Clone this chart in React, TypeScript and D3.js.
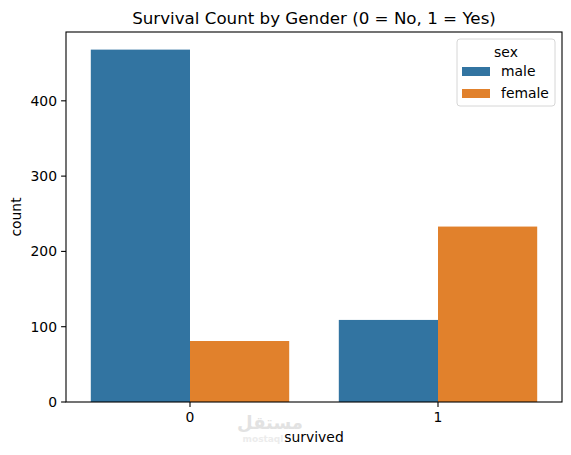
import React from 'react';
import * as d3 from 'd3';

const categories = ['0', '1'];
const groups = ['male', 'female'];
const maleCounts = [468, 109];
const femaleCounts = [81, 233];
const yTicks = [0, 100, 200, 300, 400];
const colors = ['#3274a1', '#e1812c'];

export default function App() {
  const width = 571;
  const height = 455;
  const margin = { left: 66, right: 9, top: 32, bottom: 53 };
  const innerW = width - margin.left - margin.right;
  const innerH = height - margin.top - margin.bottom;
  const font = 'DejaVu Sans, sans-serif';
  const fs = 13.9;

  const series = [maleCounts, femaleCounts];
  const maxVal = d3.max(series.flat()) as number;

  // seaborn-style continuous x: categories at 0,1 with range -0.5..1.5
  const x = d3.scaleLinear().domain([-0.5, categories.length - 0.5]).range([0, innerW]);
  const y = d3.scaleLinear().domain([0, maxVal * 1.05]).range([innerH, 0]);
  const barW = 0.8 / groups.length;

  return (
    <svg width={width} height={height} style={{ position: 'absolute', left: 0, top: 0 }} fontFamily={font}>
      <rect width={width} height={height} fill="#fff" />
      <text x={margin.left + innerW / 2} y={24} textAnchor="middle" fontSize={16.7}>
        Survival Count by Gender (0 = No, 1 = Yes)
      </text>
      <g transform={`translate(${margin.left},${margin.top})`}>
        {series.map((vals, gi) =>
          vals.map((v, ci) => {
            const x0 = x(ci - 0.4 + gi * barW);
            const x1 = x(ci - 0.4 + (gi + 1) * barW);
            return (
              <rect key={`${gi}-${ci}`} x={x0} y={y(v)} width={x1 - x0} height={innerH - y(v)} fill={colors[gi]} />
            );
          })
        )}
        {/* watermark */}
        <text x={204} y={innerH + 27} textAnchor="middle" fontSize={18} fontWeight="bold" fill="#e2e2e2">مستقل</text>
        <text x={197} y={innerH + 40} textAnchor="middle" fontSize={9} fontWeight="bold" fill="#ececec">mostaql</text>
        {/* spines */}
        <rect x={0} y={0} width={innerW} height={innerH} fill="none" stroke="#000" strokeWidth={1.1} />
        {yTicks.map(t => (
          <g key={t} transform={`translate(0,${y(t)})`}>
            <line x1={-4.9} x2={0} stroke="#000" strokeWidth={1.1} />
            <text x={-9} dy="0.35em" textAnchor="end" fontSize={fs}>{t}</text>
          </g>
        ))}
        {categories.map((c, i) => (
          <g key={c} transform={`translate(${x(i)},${innerH})`}>
            <line y1={0} y2={4.9} stroke="#000" strokeWidth={1.1} />
            <text y={20} textAnchor="middle" fontSize={fs}>{c}</text>
          </g>
        ))}
        <text x={innerW / 2} y={innerH + 40} textAnchor="middle" fontSize={fs}>survived</text>
        <text transform={`translate(${-45},${innerH / 2}) rotate(-90)`} textAnchor="middle" fontSize={fs}>count</text>
        {/* legend */}
        <g transform={`translate(${innerW - 105},7)`}>
          <rect x={0} y={0} width={98} height={67} rx={3} fill="#fff" fillOpacity={0.8} stroke="#d6d6d6" strokeWidth={1} />
          <text x={49} y={18} textAnchor="middle" fontSize={fs}>sex</text>
          {groups.map((g, i) => (
            <g key={g} transform={`translate(5,${32 + i * 22})`}>
              <rect x={0} y={-4} width={28} height={9} fill={colors[i]} />
              <text x={39} dy="0.35em" fontSize={fs}>{g}</text>
            </g>
          ))}
        </g>
      </g>
    </svg>
  );
}
